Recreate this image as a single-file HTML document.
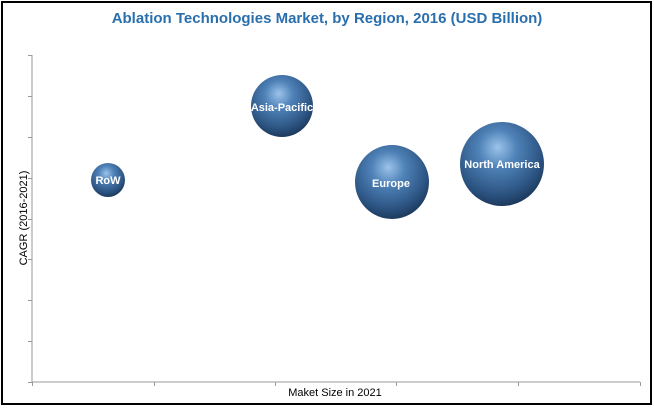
<!DOCTYPE html>
<html><head><style>
body{margin:0;width:654px;height:407px;background:#fff;overflow:hidden}
</style></head><body>
<svg width="654" height="407" xmlns="http://www.w3.org/2000/svg" font-family="Liberation Sans, sans-serif">
<defs>
<radialGradient id="g" cx="0.45" cy="0.35" r="0.65" fx="0.45" fy="0.3">
<stop offset="0" stop-color="#9cc3ea"/>
<stop offset="0.35" stop-color="#4f82b8"/>
<stop offset="0.8" stop-color="#2c5482"/>
<stop offset="1" stop-color="#1d3a5e"/>
</radialGradient>
</defs>
<rect x="2" y="2" width="649" height="402" fill="#fff" stroke="#000" stroke-width="2"/>
<text x="327" y="23" text-anchor="middle" font-size="15" font-weight="bold" fill="#2a6fad">Ablation Technologies Market, by Region, 2016 (USD Billion)</text>
<g stroke="#999" stroke-width="1">
<line x1="32" y1="55" x2="32" y2="382"/>
<line x1="32" y1="382" x2="640" y2="382"/>
<line x1="28" y1="55.5" x2="32" y2="55.5"/><line x1="28" y1="96.5" x2="32" y2="96.5"/>
<line x1="28" y1="137.5" x2="32" y2="137.5"/><line x1="28" y1="178.5" x2="32" y2="178.5"/>
<line x1="28" y1="219.5" x2="32" y2="219.5"/><line x1="28" y1="259.5" x2="32" y2="259.5"/>
<line x1="28" y1="300.5" x2="32" y2="300.5"/><line x1="28" y1="341.5" x2="32" y2="341.5"/>
<line x1="28" y1="382.5" x2="32" y2="382.5"/>
<line x1="32.5" y1="382" x2="32.5" y2="386"/><line x1="154.5" y1="382" x2="154.5" y2="386"/>
<line x1="275.5" y1="382" x2="275.5" y2="386"/><line x1="396.5" y1="382" x2="396.5" y2="386"/>
<line x1="518.5" y1="382" x2="518.5" y2="386"/><line x1="640.5" y1="382" x2="640.5" y2="386"/>
</g>
<text transform="translate(27,218) rotate(-90)" text-anchor="middle" font-size="11" fill="#000">CAGR (2016-2021)</text>
<text x="335" y="396" text-anchor="middle" font-size="11" fill="#000">Maket Size in 2021</text>
<circle cx="108" cy="180" r="17" fill="url(#g)"/>
<circle cx="282" cy="106" r="31" fill="url(#g)"/>
<circle cx="392" cy="182" r="37" fill="url(#g)"/>
<circle cx="502" cy="164" r="42" fill="url(#g)"/>
<g fill="#fff" font-weight="bold" font-size="11" text-anchor="middle">
<text x="108" y="184">RoW</text>
<text x="282" y="111">Asia-Pacific</text>
<text x="391" y="187">Europe</text>
<text x="502" y="168">North America</text>
</g>
</svg>
</body></html>
